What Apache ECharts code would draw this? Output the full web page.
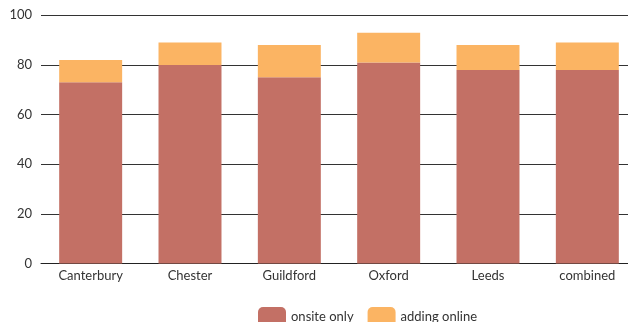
<!DOCTYPE html>
<html><head><meta charset="utf-8">
<script src="https://cdn.jsdelivr.net/npm/echarts@6/dist/echarts.min.js"></script>
<style>html,body{margin:0;padding:0;background:#fff}#c{width:628px;height:322px}</style>
</head><body><div id="c"></div>
<script>
const categories = ["Canterbury","Chester","Guildford","Oxford","Leeds","combined"];
const onsiteOnly = [73, 80, 75, 81, 78, 78];
const addingOnline = [9, 9, 13, 12, 10, 11];
const yTicks = [0, 20, 40, 60, 80, 100];
const seriesNames = ["onsite only","adding online"];
const chart = echarts.init(document.getElementById('c'));
const font = 'Lato, "Open Sans", sans-serif';
chart.setOption({
  animation:false,
  textStyle:{fontFamily:font},
  grid:{left:41,width:596,top:15.3,bottom:58.5,outerBoundsMode:'none',containLabel:false},
  legend:{top:302,left:253,itemWidth:28,itemHeight:20,itemGap:14,
    textStyle:{fontFamily:font,fontSize:13,color:'#333'},
    data:seriesNames},
  xAxis:{type:'category',data:categories,
    axisLine:{lineStyle:{color:'#222',width:1}},axisTick:{show:false},
    axisLabel:{fontFamily:font,fontSize:13,color:'#333',margin:6}},
  yAxis:{type:'value',min:yTicks[0],max:yTicks[yTicks.length-1],interval:20,
    axisLine:{show:false},axisTick:{show:false},
    axisLabel:{fontFamily:font,fontSize:13,color:'#333',margin:9},
    splitLine:{lineStyle:{color:'#333',width:1}}},
  series:[
    {name:seriesNames[0],type:'bar',stack:'a',data:onsiteOnly,barWidth:'63.4%',itemStyle:{color:'#C37065'}},
    {name:seriesNames[1],type:'bar',stack:'a',data:addingOnline,barWidth:'63.4%',itemStyle:{color:'#FBB463'}}
  ]
});
</script></body></html>
